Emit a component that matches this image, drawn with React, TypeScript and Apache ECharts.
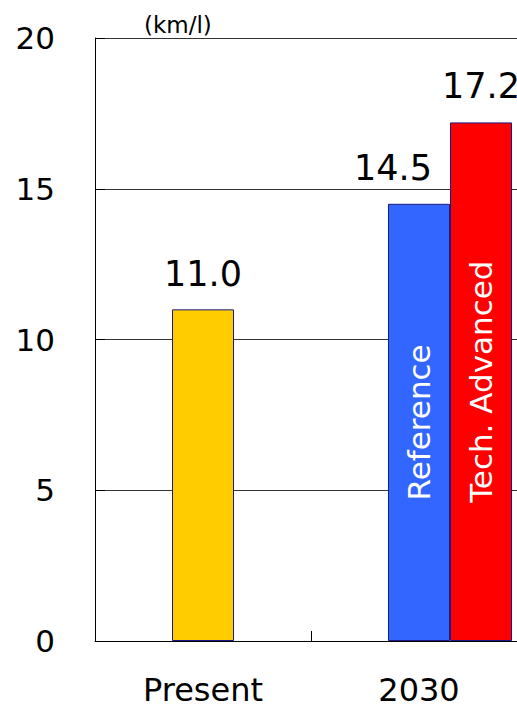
import React, { useEffect, useRef } from "react";
import * as echarts from "echarts";

const categories = ["Present", "2030"];
const presentValues: (number | string)[] = [11.0, "-"];
const spacerValues: (number | string)[] = ["-", "-"];
const referenceValues: (number | string)[] = ["-", 14.5];
const techValues: (number | string)[] = ["-", 17.2];
const seriesNames = ["Present", "Reference", "Tech. Advanced"];
const unitLabel = "(km/l)";

const FONT = "DejaVu Sans";

export default function App() {
  const ref = useRef<HTMLDivElement>(null);
  useEffect(() => {
    if (!ref.current) return;
    const chart = echarts.init(ref.current, undefined, { renderer: "svg" });
    const valueMark = (vals: (number | string)[], offset: number[]) => ({
      symbol: "circle",
      symbolSize: 1,
      itemStyle: { color: "rgba(0,0,0,0)" },
      silent: true,
      label: {
        show: true,
        position: "top",
        distance: 18,
        offset,
        fontFamily: FONT,
        fontSize: 35,
        color: "#000",
        formatter: (p: any) => Number(p.value).toFixed(1),
      },
      data: vals
        .map((v, i) => (typeof v === "number" ? { coord: [i, v], value: v } : null))
        .filter((d) => d !== null),
    });
    chart.setOption({
      animation: false,
      backgroundColor: "#fff",
      title: {
        text: unitLabel,
        left: 139,
        top: 8,
        textStyle: { fontFamily: FONT, fontSize: 23, fontWeight: "normal", color: "#000" },
      },
      grid: { left: 95, top: 38, width: 432, height: 603, containLabel: false, outerBoundsMode: "none" },
      xAxis: [
        {
          type: "category",
          data: categories,
          gridIndex: 0,
          axisLine: { show: true, lineStyle: { color: "#000", width: 1 } },
          axisTick: { show: true, inside: true, length: 10, alignWithLabel: false, lineStyle: { color: "#000" } },
          axisLabel: { fontFamily: FONT, fontSize: 32, color: "#000", margin: 33, interval: 0 },
          splitLine: { show: false },
        },
        {
          type: "category",
          data: categories,
          gridIndex: 0,
          show: false,
        },
      ],
      yAxis: {
        type: "value",
        min: 0,
        max: 20,
        interval: 5,
        axisLine: { show: true, lineStyle: { color: "#000", width: 1 } },
        axisTick: { show: true, inside: true, length: 10, lineStyle: { color: "#000" } },
        axisLabel: { fontFamily: FONT, fontSize: 31, color: "#000", margin: 40 },
        splitLine: { show: true, lineStyle: { color: "#333", width: 1 } },
      },
      series: [
        {
          name: seriesNames[0],
          type: "bar",
          xAxisIndex: 0,
          barWidth: 62,
          data: presentValues,
          itemStyle: { color: "#FFCC00", borderColor: "#1a1a80", borderWidth: 1 },
          label: {
            show: true,
            position: "top",
            distance: 18,
            fontFamily: FONT,
            fontSize: 35,
            color: "#000",
            formatter: (p: any) => Number(p.value).toFixed(1),
          },
        },
        {
          name: "spacer",
          type: "bar",
          xAxisIndex: 1,
          barWidth: 62,
          barGap: 0,
          data: spacerValues,
          silent: true,
          itemStyle: { color: "rgba(0,0,0,0)" },
        },
        {
          name: seriesNames[1],
          type: "bar",
          xAxisIndex: 1,
          barWidth: 62,
          barGap: 0,
          data: referenceValues,
          itemStyle: { color: "#3366FF", borderColor: "#1a1a80", borderWidth: 1 },
          label: {
            show: true,
            position: "inside",
            rotate: 90,
            fontFamily: FONT,
            fontSize: 31,
            color: "#fff",
            formatter: () => seriesNames[1],
          },
          markPoint: valueMark(referenceValues, [-26, 0]),
        },
        {
          name: seriesNames[2],
          type: "bar",
          xAxisIndex: 1,
          barWidth: 62,
          barGap: 0,
          data: techValues,
          itemStyle: { color: "#FF0000", borderColor: "#1a1a80", borderWidth: 1 },
          label: {
            show: true,
            position: "inside",
            rotate: 90,
            fontFamily: FONT,
            fontSize: 31,
            color: "#fff",
            formatter: () => seriesNames[2],
          },
          markPoint: valueMark(techValues, [0, 0]),
        },
      ],
    });
    return () => chart.dispose();
  }, []);
  return (
    <div
      ref={ref}
      style={{ position: "fixed", left: 0, top: 0, width: 517, height: 709, background: "#fff" }}
    />
  );
}
